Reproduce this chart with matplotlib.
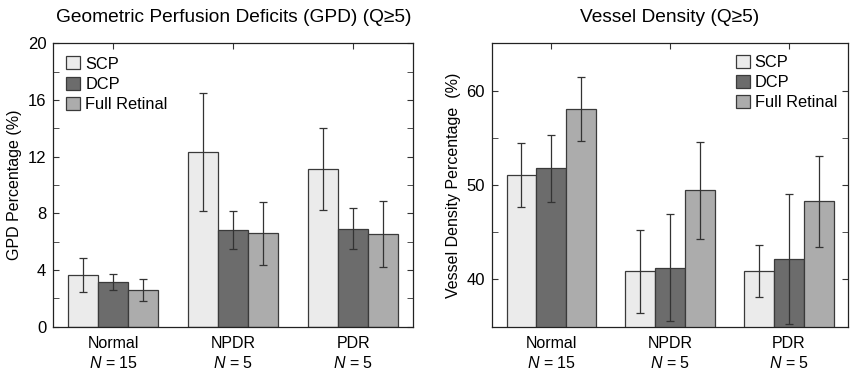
import matplotlib
matplotlib.use('Agg')
import numpy as np
import matplotlib.pyplot as plt
from matplotlib.ticker import MultipleLocator

plt.rcParams['font.family'] = ['Liberation Sans', 'DejaVu Sans']
plt.rcParams['mathtext.fontset'] = 'custom'
plt.rcParams['mathtext.it'] = 'Liberation Sans:italic'
plt.rcParams['mathtext.rm'] = 'Liberation Sans'

groups = ['Normal', 'NPDR', 'PDR']
group_n = [15, 5, 5]
series = ['SCP', 'DCP', 'Full Retinal']
colors = ['#ebebeb', '#6c6c6c', '#acacac']

# GPD (%) - means and error bar ends, per series [Normal, NPDR, PDR]
gpd_mean = [[3.65, 12.3, 11.1], [3.12, 6.82, 6.9], [2.58, 6.58, 6.53]]
gpd_low = [[2.47, 8.15, 8.22], [2.57, 5.46, 5.46], [1.82, 4.34, 4.22]]
gpd_high = [[4.84, 16.47, 14.0], [3.7, 8.16, 8.35], [3.35, 8.82, 8.86]]

# Vessel density (%)
vd_mean = [[51.05, 40.88, 40.88], [51.77, 41.24, 42.15], [58.05, 49.46, 48.3]]
vd_low = [[47.62, 36.5, 38.13], [48.22, 35.58, 35.27], [54.7, 44.3, 43.46]]
vd_high = [[54.4, 45.22, 43.67], [55.3, 46.88, 49.0], [61.38, 54.58, 53.1]]

fig = plt.figure(figsize=(8.56, 3.74), dpi=100)
ax1 = fig.add_axes([53.3 / 856, 1 - 326.7 / 374, 360 / 856, 283.4 / 374])
ax2 = fig.add_axes([491.7 / 856, 1 - 326.7 / 374, 356.7 / 856, 283.4 / 374])

x = np.arange(1, len(groups) + 1)
w = 0.25
xlabels = ['%s\n$\\it{N}$ = %d' % (g, n) for g, n in zip(groups, group_n)]


def draw(ax, mean, low, high):
    for i, name in enumerate(series):
        m = np.array(mean[i])
        yerr = [m - np.array(low[i]), np.array(high[i]) - m]
        ax.bar(x + (i - 1) * w, m, w, color=colors[i], edgecolor='#3a3a3a',
               linewidth=0.9, label=name, zorder=2)
        ax.errorbar(x + (i - 1) * w, m, yerr=yerr, fmt='none', ecolor='#333333',
                    elinewidth=0.9, capsize=3, capthick=0.9, zorder=3)
    ax.set_xlim(0.5, 3.5)
    ax.set_xticks(x)
    ax.set_xticklabels(xlabels, fontsize=11.5, linespacing=1.3)
    ax.tick_params(axis='both', which='both', direction='in', top=True, right=True,
                   color='#333333', labelsize=12)
    ax.tick_params(axis='x', length=4, pad=7, labelsize=11.5)
    ax.tick_params(axis='y', which='major', length=4, pad=5)
    ax.tick_params(axis='y', which='minor', length=4)
    for s in ax.spines.values():
        s.set_color('#222222')
        s.set_linewidth(0.9)


draw(ax1, gpd_mean, gpd_low, gpd_high)
ax1.set_ylim(0, 20)
ax1.yaxis.set_major_locator(MultipleLocator(4))
ax1.yaxis.set_minor_locator(MultipleLocator(2))
ax1.set_ylabel('GPD Percentage (%)', fontsize=11.5, labelpad=4)
ax1.set_title('Geometric Perfusion Deficits (GPD) (Q\u22655)', fontsize=13.8, pad=15)
ax1.legend(loc='upper left', frameon=False, fontsize=11.8, handlelength=0.85,
           handleheight=0.85, handletextpad=0.3, labelspacing=0.3,
           borderaxespad=0.4)

draw(ax2, vd_mean, vd_low, vd_high)
ax2.set_ylim(35, 65)
ax2.yaxis.set_major_locator(MultipleLocator(10))
ax2.yaxis.set_minor_locator(MultipleLocator(5))
ax2.set_ylabel('Vessel Density Percentage  (%)', fontsize=11.5, labelpad=4)
ax2.set_title('Vessel Density (Q\u22655)', fontsize=13.8, pad=15)
ax2.legend(loc='upper right', frameon=False, fontsize=11.8, handlelength=0.85,
           handleheight=0.85, handletextpad=0.3, labelspacing=0.3,
           borderaxespad=0.3)

fig.savefig('out.png', dpi=100)
